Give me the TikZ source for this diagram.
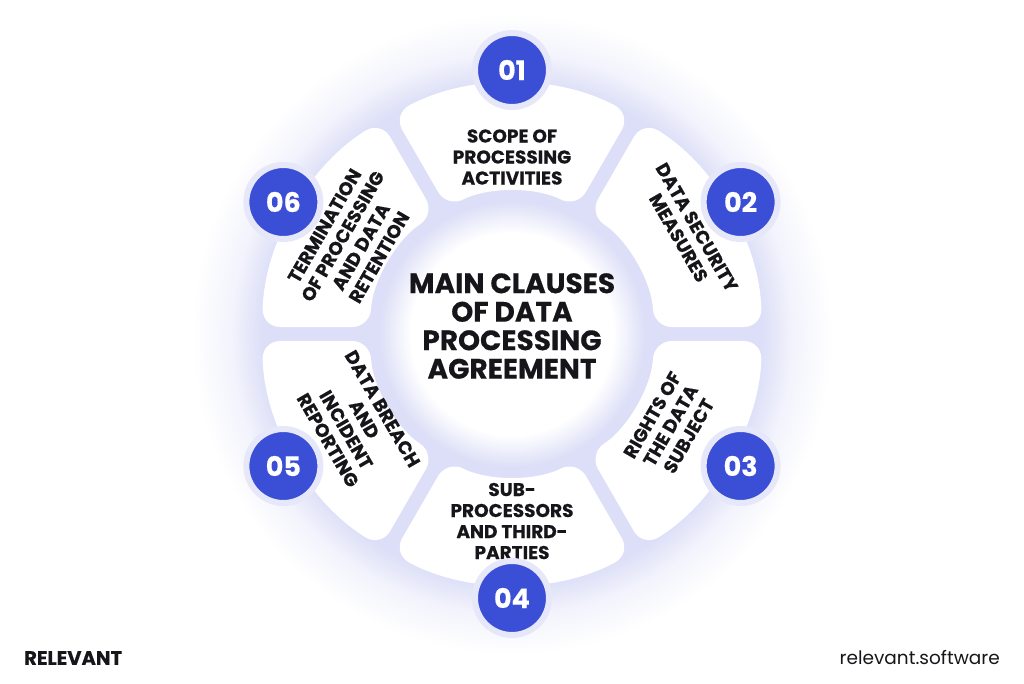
\documentclass[tikz,border=0pt]{standalone}
\usepackage{fontspec}
\setmainfont{Poppins}[BoldFeatures={FakeBold=0.35}]
\usepackage{tikz}
\usetikzlibrary{positioning}
\definecolor{clauseblue}{RGB}{58,78,214}
\definecolor{haze}{RGB}{220,223,247}
\definecolor{halo}{RGB}{230,232,250}
\definecolor{inkblack}{RGB}{22,22,26}
\pgfmathsetmacro{\ringin}{142}
\pgfmathsetmacro{\ringout}{250}
\pgfmathsetmacro{\hubrad}{133}
\pgfmathsetmacro{\badgerad}{264}
\pgfmathsetmacro{\gaphalf}{7}
\pgfdeclareradialshading{hubglow}{\pgfpoint{0bp}{0bp}}{%
  color(0bp)=(white); color(19bp)=(white); color(25bp)=(haze); color(50bp)=(haze)}
\pgfdeclareradialshading{ringglow}{\pgfpoint{0bp}{0bp}}{%
  color(0bp)=(haze); color(19.5bp)=(haze); color(22bp)=(haze!35!white);
  color(25bp)=(white); color(50bp)=(white)}
% one white ring segment centred on angle #1
\newcommand{\clausesector}[1]{%
  \pgfmathsetmacro{\secout}{asin(\gaphalf/\ringout)}%
  \pgfmathsetmacro{\secin}{asin(\gaphalf/\ringin)}%
  \fill[sector] (#1-30+\secout:\ringout)
    arc[start angle=#1-30+\secout, end angle=#1+30-\secout, radius=\ringout]
    -- (#1+30-\secin:\ringin)
    arc[start angle=#1+30-\secin, end angle=#1-30+\secin, radius=\ringin]
    -- cycle;}

\begin{document}
\begin{tikzpicture}[x=1pt, y=1pt,
    sector/.style={white, rounded corners=18pt},
    badge/.style={circle, fill=clauseblue, draw=halo, line width=6pt,
      minimum size=74pt, inner sep=0pt, text=white,
      font=\fontsize{27}{27}\selectfont\bfseries},
    clause/.style={align=center, text=inkblack, inner sep=0pt,
      font=\fontsize{18.5}{21}\selectfont\bfseries},
    hubdisc/.style={circle, minimum size=2*\hubrad pt, inner sep=0pt,
      shading=hubglow},
    title/.style={align=center, text=inkblack, inner sep=0pt,
      font=\fontsize{28}{28.5}\selectfont\bfseries}]
    \useasboundingbox (-512,-349) rectangle (512,334);
    \fill[white] (-512,-349) rectangle (512,334);
    % soft glow behind the ring
    \coordinate (centre) at (0,0);
    \shade[shading=ringglow] (centre) circle[radius=320];
    % ring segments
    \clausesector{90}
    \clausesector{30}
    \clausesector{-30}
    \clausesector{-90}
    \clausesector{-150}
    \clausesector{150}
    % hub
    \node[hubdisc] (hub) at (centre) {};
    \node[title] (heading) at (0,8)
      {MAIN CLAUSES\\OF DATA\\PROCESSING\\AGREEMENT};
    % segment labels
    \node[clause] (scope) at (90:177) {SCOPE OF\\PROCESSING\\ACTIVITIES};
    \node[clause, rotate=-60] (security) at (30:203) {DATA SECURITY\\MEASURES};
    \node[clause, rotate=60] (rights) at (-30:183) {RIGHTS OF\\THE DATA\\SUBJECT};
    \node[clause] (subproc) at (-90:187) {SUB-\\PROCESSORS\\AND THIRD-\\PARTIES};
    \node[clause, rotate=-60] (breach) at (-150:181)
      {DATA BREACH\\AND\\INCIDENT\\REPORTING};
    \node[clause, rotate=60] (termination) at (150:185)
      {TERMINATION\\OF PROCESSING\\AND DATA\\RETENTION};
    % number badges
    \node[badge] (b01) at (90:\badgerad) {01};
    \node[badge] (b02) at (30:\badgerad) {02};
    \node[badge] (b03) at (-30:\badgerad) {03};
    \node[badge] (b04) at (-90:\badgerad) {04};
    \node[badge] (b05) at (-150:\badgerad) {05};
    \node[badge] (b06) at (150:\badgerad) {06};
    % footer
    \node[anchor=west, text=inkblack, inner sep=0pt,
      font=\fontsize{19.5}{19.5}\selectfont\bfseries] (brand) at (-488,-324) {RELEVANT};
    \node[anchor=east, text=inkblack, inner sep=0pt,
      font=\fontsize{18.5}{18.5}\selectfont] (site) at (488,-324) {relevant.software};
\end{tikzpicture}
\end{document}
